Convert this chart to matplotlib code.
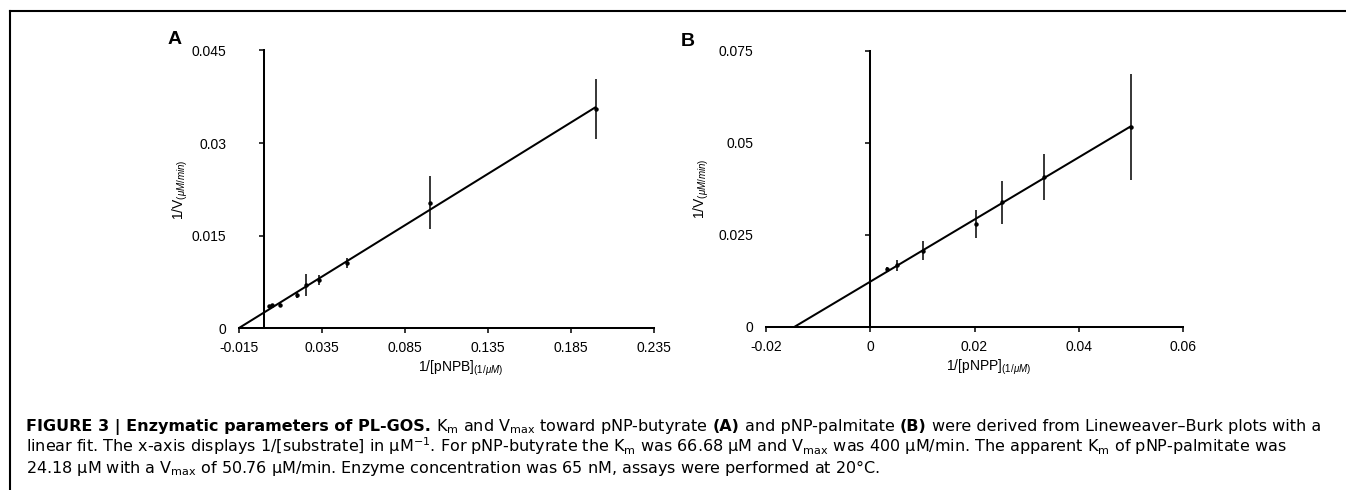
import matplotlib
matplotlib.use("Agg")
import matplotlib.pyplot as plt
from matplotlib.lines import Line2D

plt.rcParams['font.family'] = ['Liberation Sans', 'DejaVu Sans']
plt.rcParams['mathtext.fontset'] = 'custom'
plt.rcParams['mathtext.rm'] = 'Liberation Sans'
plt.rcParams['mathtext.it'] = 'Liberation Sans:italic'
plt.rcParams['mathtext.bf'] = 'Liberation Sans:bold'

# Panel A: pNP-butyrate (Lineweaver-Burk)
inv_s_a = [0.0033, 0.0049, 0.0097, 0.0198, 0.0252, 0.0334, 0.0499, 0.0998, 0.2001]
inv_v_a = [0.0035, 0.0037, 0.0038, 0.0053, 0.0070, 0.0078, 0.0105, 0.0203, 0.0355]
err_a = [0.0002, 0.0002, 0.0003, 0.0005, 0.0018, 0.0008, 0.0008, 0.0043, 0.0049]
km_a, vmax_a = 66.68, 400.0
xticks_a = [-0.015, 0.035, 0.085, 0.135, 0.185, 0.235]
xticklabels_a = ["-0.015", "0.035", "0.085", "0.135", "0.185", "0.235"]
yticks_a = [0, 0.015, 0.03, 0.045]
yticklabels_a = ["0", "0.015", "0.03", "0.045"]

# Panel B: pNP-palmitate (Lineweaver-Burk)
inv_s_b = [0.0032, 0.0052, 0.0102, 0.0202, 0.0252, 0.0333, 0.0500]
inv_v_b = [0.0157, 0.0168, 0.0207, 0.0280, 0.0338, 0.0406, 0.0542]
err_b = [0.0006, 0.0015, 0.0026, 0.0038, 0.0058, 0.0062, 0.0144]
slope_b, intercept_b = 0.843, 0.0123
xticks_b = [-0.02, 0, 0.02, 0.04, 0.06]
xticklabels_b = ["-0.02", "0", "0.02", "0.04", "0.06"]
yticks_b = [0, 0.025, 0.05, 0.075]
yticklabels_b = ["0", "0.025", "0.05", "0.075"]

W, H = 1346, 490
fig = plt.figure(figsize=(W / 100, H / 100), dpi=100)

TICK_FS = 10
LW = 1.45


def panel(rect, x, y, err, slope, intercept, xticks, xtl, yticks, ytl,
          xlabel, ylabel_x):
    ax = fig.add_axes(rect)
    ax.set_xlim(xticks[0], xticks[-1])
    ax.set_ylim(yticks[0], yticks[-1])
    # fitted straight line, from the x-intercept to the last point
    x0 = -intercept / slope
    ax.plot([x0, x[-1]], [0, intercept + slope * x[-1]], color='black',
            lw=LW, solid_capstyle='butt', zorder=2, clip_on=False)
    ax.errorbar(x, y, yerr=err, fmt='o', ms=2.2, color='black',
                ecolor='black', elinewidth=1.1, capsize=0, zorder=3)
    for s in ('top', 'right'):
        ax.spines[s].set_visible(False)
    ax.spines['left'].set_position(('data', 0))
    for s in ('left', 'bottom'):
        ax.spines[s].set_linewidth(LW)
    ax.set_xticks(xticks, xtl)
    ax.set_yticks(yticks)
    ax.tick_params(axis='y', direction='out', length=3.4, width=1.1,
                   labelleft=False)
    ax.tick_params(axis='x', direction='out', length=3.6, width=1.1,
                   labelsize=TICK_FS, pad=6)
    # y tick labels sit at the left edge of the plot area
    sec = ax.secondary_yaxis('left')
    sec.spines['left'].set_visible(False)
    sec.set_yticks(yticks, ytl)
    sec.tick_params(length=0, pad=9, labelsize=TICK_FS)
    ax.set_xlabel(xlabel, fontsize=TICK_FS)
    ax.xaxis.set_label_coords(0.533, -0.112)
    ax.set_ylabel(r"1/V$_{\mathit{(μM/min)}}$", fontsize=TICK_FS)
    ax.yaxis.set_label_coords(ylabel_x, 0.5)
    return ax


rect_a = [239 / W, 1 - 328 / H, 415 / W, 277.5 / H]
rect_b = [766 / W, 1 - 327 / H, 417 / W, 276.5 / H]
panel(rect_a, inv_s_a, inv_v_a, err_a, km_a / vmax_a, 1 / vmax_a,
      xticks_a, xticklabels_a, yticks_a, yticklabels_a,
      r"1/[pNPB]$_{\mathit{(1/μM)}}$", -0.118)
panel(rect_b, inv_s_b, inv_v_b, err_b, slope_b, intercept_b,
      xticks_b, xticklabels_b, yticks_b, yticklabels_b,
      r"1/[pNPP]$_{\mathit{(1/μM)}}$", -0.132)

fig.text(175 / W, 1 - 39 / H, "A", fontsize=14, fontweight='bold',
         ha='center', va='center')
fig.text(688 / W, 1 - 41 / H, "B", fontsize=14, fontweight='bold',
         ha='center', va='center')

# frame lines along the left and top edges
fig.add_artist(Line2D([10 / W, 10 / W], [0, 1 - 11 / H], color='black',
                      lw=1.5, transform=fig.transFigure))
fig.add_artist(Line2D([10 / W, 1], [1 - 11 / H, 1 - 11 / H], color='black',
                      lw=1.5, transform=fig.transFigure))

# caption, in a wider face
CAP_FAMILY = ['DejaVu Sans']
CAP_FS = 11.5
renderer = fig.canvas.get_renderer()


def text_width(t):
    return t.get_window_extent(renderer).width


probe1 = fig.text(0, 0, "aa", fontsize=CAP_FS, family=CAP_FAMILY)
probe2 = fig.text(0, 0, "a a", fontsize=CAP_FS, family=CAP_FAMILY)
space_w = text_width(probe2) - text_width(probe1)
probe1.remove()
probe2.remove()

cap_x = 26.5
line1 = [
    ("FIGURE 3 | Enzymatic parameters of PL-GOS.", 'bold'),
    (r"K$_\mathregular{m}$ and V$_\mathregular{max}$ toward pNP-butyrate", 'normal'),
    ("(A)", 'bold'),
    ("and pNP-palmitate", 'normal'),
    ("(B)", 'bold'),
    ("were derived from Lineweaver–Burk plots with a", 'normal'),
]
x = cap_x
base1 = 1 - 431 / H
for seg, wt in line1:
    t = fig.text(x / W, base1, seg, fontsize=CAP_FS, fontweight=wt,
                 family=CAP_FAMILY, ha='left', va='baseline')
    x += text_width(t) + space_w

line2 = (r"linear fit. The x-axis displays 1/[substrate] in μM$^{\mathregular{−1}}$. "
         r"For pNP-butyrate the K$_\mathregular{m}$ was 66.68 μM and "
         r"V$_\mathregular{max}$ was 400 μM/min. The apparent K$_\mathregular{m}$ "
         r"of pNP-palmitate was")
line3 = (r"24.18 μM with a V$_\mathregular{max}$ of 50.76 μM/min. Enzyme "
         r"concentration was 65 nM, assays were performed at 20°C.")
fig.text(cap_x / W, 1 - 452 / H, line2, fontsize=CAP_FS, family=CAP_FAMILY,
         ha='left', va='baseline')
fig.text(cap_x / W, 1 - 473 / H, line3, fontsize=CAP_FS, family=CAP_FAMILY,
         ha='left', va='baseline')

fig.savefig("out.png", dpi=100)
